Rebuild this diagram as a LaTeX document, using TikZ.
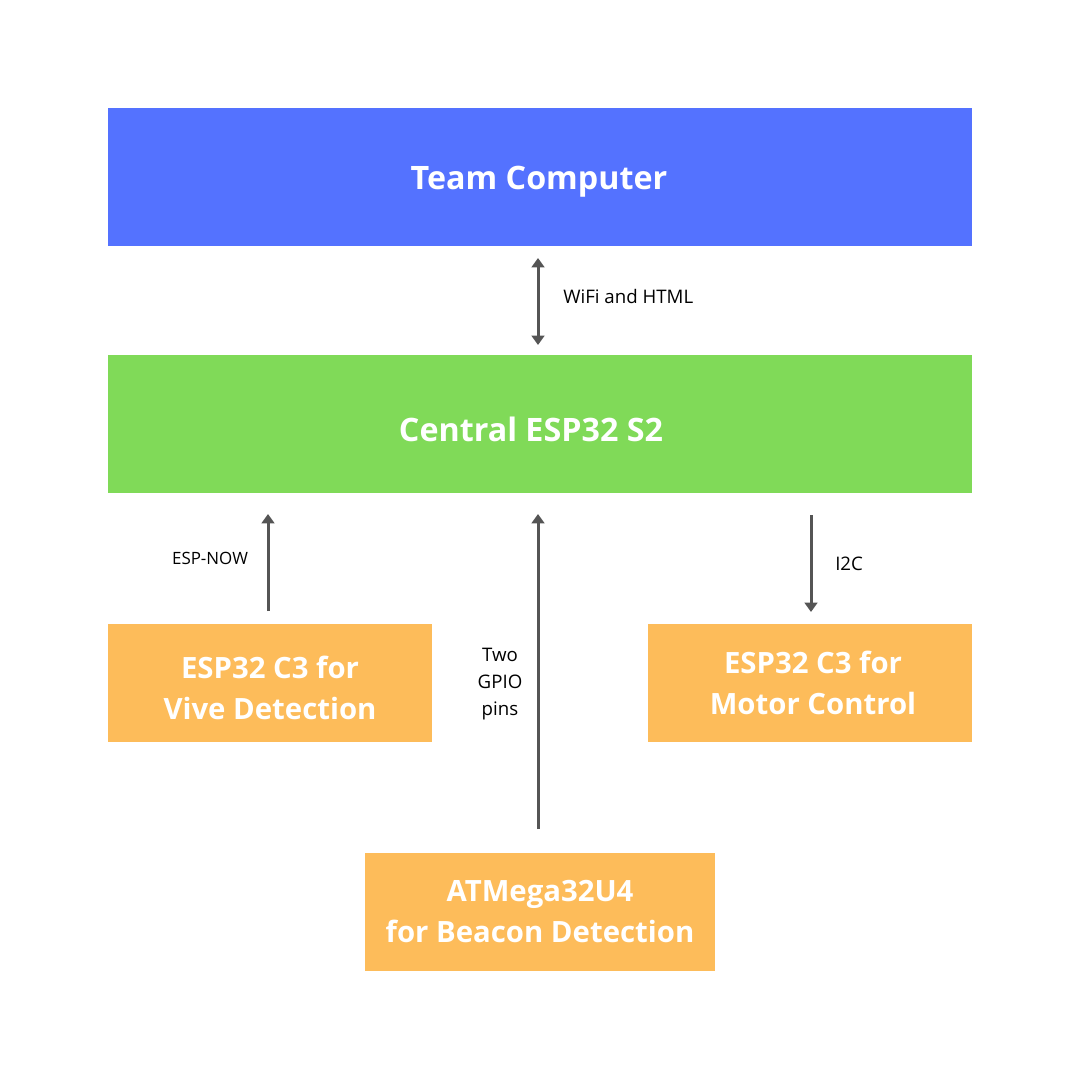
\documentclass[tikz,border=0pt]{standalone}
\usepackage{fontspec}
\setmainfont{Open Sans}
\usetikzlibrary{arrows.meta}
\definecolor{tblue}{RGB}{84,114,255}
\definecolor{tgreen}{RGB}{128,218,88}
\definecolor{torange}{RGB}{253,188,90}
\definecolor{tgray}{RGB}{85,85,85}
\begin{document}
\begin{tikzpicture}[x=0.75pt,y=-0.75pt,
  box/.style={draw=none,inner sep=0pt,align=center,text=white,font=\fontsize{24.2}{30.75}\selectfont\bfseries},
  obox/.style={draw=none,inner sep=0pt,align=center,text=white,font=\fontsize{22}{30.75}\selectfont\bfseries},
  conn/.style={draw=tgray,line width=2.25pt,-{Triangle[width=9.5pt,length=7pt]}},
  biconn/.style={draw=tgray,line width=2.25pt,{Triangle[width=9.5pt,length=7pt]}-{Triangle[width=9.5pt,length=7pt]}},
  lbl/.style={inner sep=0pt,text=black,align=center,font=\fontsize{14}{20}\selectfont},
  slbl/.style={inner sep=0pt,text=black,font=\fontsize{12.7}{15}\selectfont}]
\useasboundingbox (0,0) rectangle (1080,1080);
\fill[white] (0,0) rectangle (1080,1080);
% boxes
\fill[tblue] (108,108) rectangle (972,246);
\node[box] (team) at (539,182) {Team Computer};
\fill[tgreen] (108,355) rectangle (972,493);
\node[box] (central) at (531,429) {Central ESP32 S2};
\fill[torange] (108,624) rectangle (432,742);
\node[obox] (vive) at (270,688) {ESP32 C3 for\\Vive Detection};
\fill[torange] (648,624) rectangle (972,742);
\node[obox] (motor) at (813,683) {ESP32 C3 for\\Motor Control};
\fill[torange] (365,853) rectangle (715,971);
\node[obox] (atm) at (540,912) {ATMega32U4\\for Beacon Detection};
% connector endpoints
\coordinate (wa) at (538,258);
\coordinate (wb) at (538,345);
\coordinate (ea) at (268,611);
\coordinate (eb) at (268,514);
\coordinate (ga) at (538,829);
\coordinate (gb) at (538,514);
\coordinate (ia) at (811,515);
\coordinate (ib) at (811,612);
\draw[biconn] (wa) -- (wb);
\draw[conn] (ea) -- (eb);
\draw[conn] (ga) -- (gb);
\draw[conn] (ia) -- (ib);
% labels
\node[lbl,anchor=west] (wl) at (563,297) {WiFi and HTML};
\node[slbl] (el) at (210,558) {ESP-NOW};
\node[lbl] (gl) at (500,684) {Two\\GPIO\\pins};
\node[lbl,anchor=west] (il) at (835,564) {I2C};
\end{tikzpicture}
\end{document}
